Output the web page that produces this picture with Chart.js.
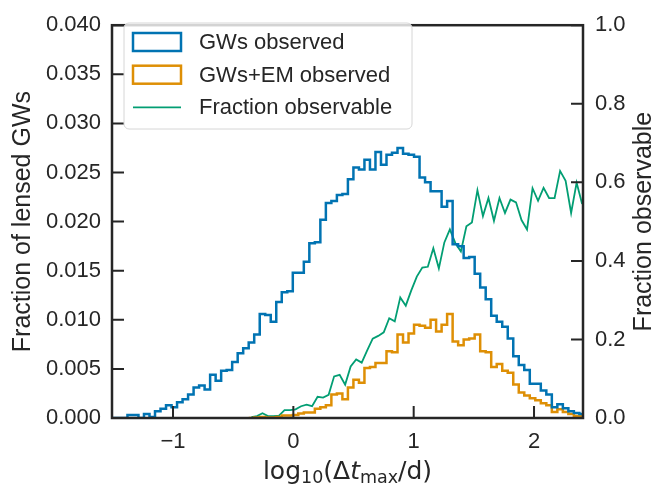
<!DOCTYPE html>
<html>
<head>
<meta charset="utf-8">
<script src="https://cdn.jsdelivr.net/npm/chart.js@4.4.1/dist/chart.umd.min.js"></script>
<style>
  html, body { margin: 0; padding: 0; background: #fff; }
</style>
</head>
<body>
<canvas id="chart" width="658" height="494"></canvas>
<script>
// histogram bins in log10(dt_max / d)
const binStart = -1.516;
const binWidth = 0.0458;

// fraction of lensed GWs per bin (all bins)
const gwObserved = [
  0, 0, 0, 0.0003, 0.0003, 0, 0.0004, 0.0001, 0.0007, 0.00095,
  0.0013, 0.0011, 0.0016, 0.0019, 0.0024, 0.0031, 0.0033, 0.0029, 0.0044, 0.0038,
  0.0048, 0.0049, 0.0057, 0.0066, 0.0071, 0.0077, 0.0085, 0.0106, 0.0105, 0.0098,
  0.0118, 0.0128, 0.0129, 0.0148, 0.0148, 0.0159, 0.0178, 0.0179, 0.0202, 0.0219,
  0.0221, 0.0227, 0.0228, 0.0243, 0.0255, 0.0253, 0.0263, 0.0253, 0.0271, 0.0258,
  0.0268, 0.0270, 0.0275, 0.0269, 0.0268, 0.0266, 0.0245, 0.0240, 0.0231, 0.0231,
  0.0215, 0.0221, 0.0177, 0.0175, 0.0163, 0.0164, 0.0147, 0.0133, 0.0121, 0.0104,
  0.0098, 0.0093, 0.0081, 0.0063, 0.0054, 0.0049, 0.0035, 0.0035, 0.0028, 0.0024,
  0.0011, 0.0014, 0.0010, 0.0007, 0.0005, 0.0004
];

// the EM series and the fraction start at this bin
const emFirstBin = 25;

const gwEmObserved = [
  0, 0.00004, 0.0001, 0.00005, 0.00005, 0.0001, 0.00025, 0.00025, 0.0003, 0.00045,
  0.00055, 0.00055, 0.00095, 0.0011, 0.0013, 0.0024, 0.0025, 0.0019, 0.0031, 0.0039,
  0.0036, 0.0051, 0.0052, 0.0056, 0.0056, 0.0068, 0.0067, 0.0085, 0.0077, 0.0086,
  0.0095, 0.0094, 0.0092, 0.0100, 0.0088, 0.0095, 0.0106, 0.0078, 0.0074, 0.0080,
  0.0081, 0.0085, 0.0068, 0.0067, 0.0052, 0.0055, 0.0048, 0.0046, 0.0034, 0.0026,
  0.0023, 0.0020, 0.0018, 0.0015, 0.0013, 0.0006, 0.0009, 0.0006, 0.0004, 0.0002,
  0.0002
];

const fractionObservable = [
  0.002, 0.005, 0.012, 0.005, 0.005, 0.006, 0.020, 0.020, 0.022, 0.030,
  0.034, 0.030, 0.054, 0.052, 0.059, 0.106, 0.110, 0.085, 0.131, 0.149,
  0.141, 0.172, 0.202, 0.209, 0.218, 0.254, 0.246, 0.307, 0.286, 0.325,
  0.360, 0.383, 0.385, 0.432, 0.381, 0.447, 0.480, 0.445, 0.424, 0.488,
  0.498, 0.580, 0.514, 0.560, 0.502, 0.560, 0.522, 0.556, 0.549, 0.504,
  0.480, 0.585, 0.553, 0.586, 0.560, 0.560, 0.629, 0.604, 0.522, 0.599,
  0.545
];

const xTicks = [-1, 0, 1, 2];
const leftTicks = [0, 0.005, 0.01, 0.015, 0.02, 0.025, 0.03, 0.035, 0.04];
const rightTicks = [0, 0.2, 0.4, 0.6, 0.8, 1.0];

const ink = "#262626";
const fontFamily = '"Liberation Sans", Arial, sans-serif';
const mathFamily = '"DejaVu Sans", sans-serif';

// step outline like a histogram: point at each left edge, one more at the last right edge
function stepPoints(values, firstBin) {
  const pts = [];
  values.forEach((v, i) => {
    const x = binStart + (firstBin + i) * binWidth;
    if (i === 0) pts.push({ x: x, y: 0 });
    pts.push({ x: x, y: v });
  });
  const xEnd = binStart + (firstBin + values.length) * binWidth;
  pts.push({ x: xEnd, y: values[values.length - 1] });
  pts.push({ x: xEnd, y: 0 });
  return pts;
}

function centerPoints(values, firstBin) {
  return values.map((v, i) => ({ x: binStart + (firstBin + i + 0.5) * binWidth, y: v }));
}

const decorations = {
  id: "decorations",
  afterDatasetsDraw(chart) {
    const { ctx, chartArea: a, scales } = chart;
    ctx.save();
    ctx.strokeStyle = ink;
    ctx.lineCap = "butt";

    // inward tick marks
    ctx.lineWidth = 2;
    ctx.beginPath();
    scales.x.ticks.forEach(t => {
      const px = scales.x.getPixelForValue(t.value);
      ctx.moveTo(px, a.bottom);
      ctx.lineTo(px, a.bottom - 12);
    });
    scales.y.ticks.forEach(t => {
      const py = scales.y.getPixelForValue(t.value);
      ctx.moveTo(a.left, py);
      ctx.lineTo(a.left + 12, py);
    });
    scales.y2.ticks.forEach(t => {
      const py = scales.y2.getPixelForValue(t.value);
      ctx.moveTo(a.right, py);
      ctx.lineTo(a.right - 12, py);
    });
    ctx.stroke();

    // frame
    ctx.lineWidth = 2.5;
    ctx.strokeRect(a.left, a.top, a.right - a.left, a.bottom - a.top);

    // legend
    const lx = 124, ly = 23, lw = 288, lh = 106;
    ctx.beginPath();
    ctx.roundRect(lx, ly, lw, lh, 5);
    ctx.fillStyle = "rgba(255,255,255,0.8)";
    ctx.fill();
    ctx.lineWidth = 1;
    ctx.strokeStyle = "#d6d6d6";
    ctx.stroke();
    ctx.font = "22px " + fontFamily;
    ctx.textBaseline = "middle";
    ctx.textAlign = "left";
    chart.data.datasets.forEach((ds, i) => {
      const cy = 42 + i * 32.7;
      ctx.strokeStyle = ds.borderColor;
      if (ds.stepped) {
        ctx.lineWidth = 2.5;
        ctx.strokeRect(133, cy - 9, 48, 18);
      } else {
        ctx.lineWidth = 1.8;
        ctx.beginPath();
        ctx.moveTo(133, cy);
        ctx.lineTo(181, cy);
        ctx.stroke();
      }
      ctx.fillStyle = ink;
      ctx.fillText(ds.label, 199, cy + 1);
    });

    // axis titles
    const midY = (a.top + a.bottom) / 2;
    ctx.fillStyle = ink;
    ctx.font = "25px " + fontFamily;
    ctx.textAlign = "center";
    ctx.textBaseline = "middle";
    [[23, "Fraction of lensed GWs"], [644, "Fraction observable"]].forEach(([tx, txt]) => {
      ctx.save();
      ctx.translate(tx, midY);
      ctx.rotate(-Math.PI / 2);
      ctx.fillText(txt, 0, 0);
      ctx.restore();
    });

    // x title: log10(Δt_max/d)
    const main = "25px " + mathFamily;
    const ital = "oblique 25px " + mathFamily;
    const sub = "17.5px " + mathFamily;
    const parts = [
      { t: "log", f: main, dy: 0 },
      { t: "10", f: sub, dy: 4 },
      { t: "(\u0394", f: main, dy: 0 },
      { t: "t", f: ital, dy: 0 },
      { t: "max", f: sub, dy: 4 },
      { t: "/d)", f: main, dy: 0 }
    ];
    let total = 0;
    parts.forEach(p => { ctx.font = p.f; p.w = ctx.measureText(p.t).width; total += p.w; });
    let cx = (a.left + a.right) / 2 - total / 2;
    ctx.textAlign = "left";
    ctx.textBaseline = "alphabetic";
    parts.forEach(p => {
      ctx.font = p.f;
      ctx.fillText(p.t, cx, 479 + p.dy);
      cx += p.w;
    });
    ctx.restore();
  }
};

Chart.defaults.font.family = fontFamily;
Chart.defaults.color = ink;

const noGrid = { display: false, drawTicks: false, tickLength: 0 };

new Chart(document.getElementById("chart").getContext("2d"), {
  type: "line",
  data: {
    datasets: [
      {
        label: "GWs observed",
        data: stepPoints(gwObserved, 0),
        yAxisID: "y",
        stepped: "before",
        borderColor: "#0173b2",
        borderWidth: 2.5,
        pointRadius: 0,
        fill: false
      },
      {
        label: "GWs+EM observed",
        data: stepPoints(gwEmObserved, emFirstBin),
        yAxisID: "y",
        stepped: "before",
        borderColor: "#de8f05",
        borderWidth: 2.5,
        pointRadius: 0,
        fill: false
      },
      {
        label: "Fraction observable",
        data: centerPoints(fractionObservable, emFirstBin),
        yAxisID: "y2",
        tension: 0,
        borderColor: "#029e73",
        borderWidth: 1.8,
        pointRadius: 0,
        fill: false
      }
    ]
  },
  options: {
    responsive: false,
    animation: false,
    layout: { padding: { top: 12, left: 0, right: 0, bottom: 0 } },
    plugins: {
      legend: { display: false },
      tooltip: { enabled: false }
    },
    scales: {
      x: {
        type: "linear",
        min: -1.507,
        max: 2.407,
        afterBuildTicks: s => { s.ticks = xTicks.map(v => ({ value: v })); },
        afterFit: s => { s.height = 76; },
        grid: noGrid,
        border: { display: false },
        ticks: {
          padding: 11,
          font: { size: 22 },
          color: ink,
          callback: v => (v < 0 ? "\u2212" + Math.abs(v) : String(v))
        }
      },
      y: {
        position: "left",
        min: 0,
        max: 0.04,
        afterBuildTicks: s => { s.ticks = leftTicks.map(v => ({ value: v })); },
        afterFit: s => { s.width = 112; },
        grid: noGrid,
        border: { display: false },
        ticks: {
          padding: 11,
          font: { size: 22 },
          color: ink,
          callback: v => v.toFixed(3)
        }
      },
      y2: {
        position: "right",
        min: 0,
        max: 1,
        afterBuildTicks: s => { s.ticks = rightTicks.map(v => ({ value: v })); },
        afterFit: s => { s.width = 75; },
        grid: noGrid,
        border: { display: false },
        ticks: {
          padding: 12,
          font: { size: 22 },
          color: ink,
          callback: v => v.toFixed(1)
        }
      }
    }
  },
  plugins: [decorations]
});
</script>
</body>
</html>
